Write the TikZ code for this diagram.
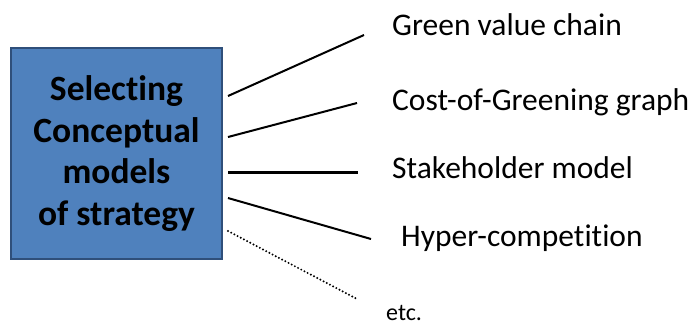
\documentclass[tikz,border=0pt]{standalone}
\usepackage{fontspec}
\setmainfont{Carlito}[RawFeature=-liga]
\begin{document}
\begin{tikzpicture}[x=1pt,y=-1pt,
  mainbox/.style={draw=boxedge,fill=boxfill,line width=1.3pt,minimum width=211pt,minimum height=211pt,inner sep=0pt,align=center,
    font=\fontsize{35.5}{41.5}\selectfont\bfseries},
  label/.style={anchor=base west,inner sep=0pt,font=\fontsize{31.5}{37}\selectfont},
  smalllabel/.style={anchor=base west,inner sep=0pt,font=\fontsize{24}{29}\selectfont},
  link/.style={line width=2pt},
  thicklink/.style={line width=3pt},
  dotlink/.style={line width=2.2pt,line cap=round,dash pattern=on 0pt off 3.6pt}]
\definecolor{boxfill}{HTML}{4F81BD}
\definecolor{boxedge}{HTML}{2F4F7A}
\useasboundingbox (0,0) rectangle (695,325);

% central box
\node[mainbox] (box) at (116.5,153.5) {Selecting\\Conceptual\\models\\of strategy};

% model labels
\node[label] (green) at (392,35) {Green value chain};
\node[label] (cost) at (392,110) {Cost-of-Greening graph};
\node[label] (stake) at (392,178) {Stakeholder model};
\node[label] (hyper) at (401,246) {Hyper-competition};
\node[smalllabel] (etc) at (386,320) {etc.};

% connector end points
\coordinate (s1) at (228,96);   \coordinate (e1) at (364,35);
\coordinate (s2) at (228,137);  \coordinate (e2) at (357,103);
\coordinate (s3) at (228,172);  \coordinate (e3) at (358,172);
\coordinate (s4) at (228,198);  \coordinate (e4) at (371,239);
\coordinate (s5) at (228,231);  \coordinate (e5) at (357,299);

% connectors
\draw[link] (s1) -- (e1);
\draw[link] (s2) -- (e2);
\draw[thicklink] (s3) -- (e3);
\draw[link] (s4) -- (e4);
\draw[dotlink] (s5) -- (e5);
\end{tikzpicture}
\end{document}
